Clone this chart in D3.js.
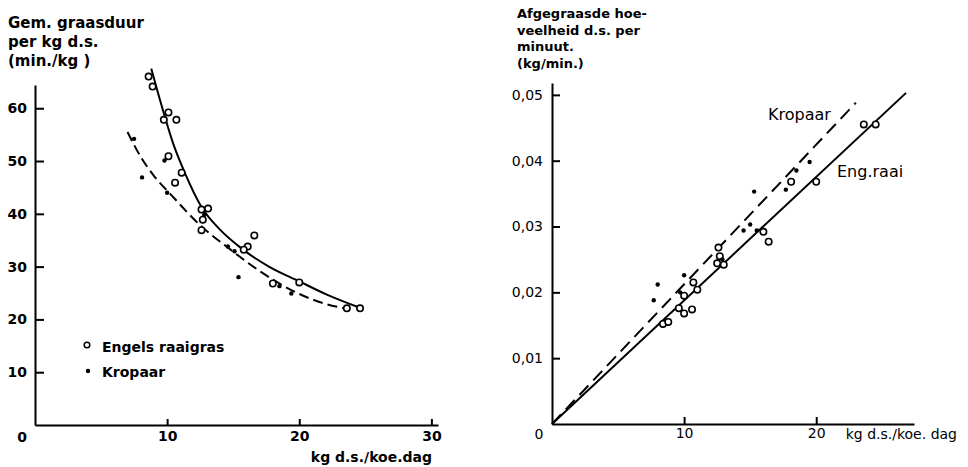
<!DOCTYPE html>
<html>
<head>
<meta charset="utf-8">
<script src="https://cdn.jsdelivr.net/npm/d3@7"></script>
<style>
  body { margin: 0; background: #fff; }
  svg { font-family: "DejaVu Sans", sans-serif; }
  .axis path, .axis line { stroke: #000; stroke-width: 2; }
  .axis text { fill: #000; }
</style>
</head>
<body>
<div id="chart"></div>
<script>
// left panel: grazing time per kg dry matter (min/kg) vs kg d.s./cow.day
const engLeftPts = [
  [8.6, 66.0], [8.9, 64.1], [10.1, 59.2], [9.75, 57.8], [10.7, 57.8], [10.1, 50.9],
  [11.1, 47.8], [10.6, 45.9], [12.6, 40.8], [13.1, 41.0], [12.7, 38.9], [12.6, 36.9],
  [16.6, 35.9], [16.1, 33.8], [15.8, 33.2], [20.0, 27.0], [18.0, 26.8], [23.6, 22.1], [24.6, 22.1]
];
const kropLeftPts = [
  [7.5, 54.2], [8.1, 46.9], [10.0, 44.0], [9.8, 50.1], [12.8, 39.8], [14.6, 33.8],
  [15.1, 32.9], [15.4, 28.0], [18.5, 26.3], [19.4, 24.9]
];
const engLeftCurve = [
  [8.8, 67.5], [9.7, 59.5], [10.5, 53.0], [11.3, 48.0], [12.6, 41.3], [14.0, 37.0],
  [15.6, 33.5], [17.7, 30.0], [20.0, 27.2], [22.0, 24.8], [24.6, 22.2]
];
const kropLeftCurve = [
  [7.0, 55.5], [8.0, 50.8], [9.0, 47.2], [10.3, 43.6], [12.6, 37.6], [14.6, 33.6],
  [17.1, 29.0], [19.6, 25.3], [21.9, 23.0], [23.4, 22.1]
];
const leftXTicks = [10, 20, 30];
const leftYTicks = [10, 20, 30, 40, 50, 60];

// right panel: grazed amount d.s. per minute (kg/min)
const engRightPts = [
  [12.6, 0.0268], [12.7, 0.0255], [12.5, 0.0244], [13.0, 0.0242], [10.7, 0.0215],
  [11.0, 0.0204], [10.0, 0.0195], [9.6, 0.0176], [10.0, 0.0168], [10.6, 0.0174],
  [8.4, 0.0152], [8.8, 0.0155], [16.0, 0.0292], [16.4, 0.0277], [23.6, 0.0455],
  [24.5, 0.0455], [20.0, 0.0368], [18.1, 0.0368]
];
const kropRightPts = [
  [15.3, 0.0353], [15.0, 0.0303], [14.5, 0.0294], [15.5, 0.0294], [10.0, 0.0226],
  [8.0, 0.0212], [7.7, 0.0188], [9.7, 0.0200], [12.9, 0.0250], [19.5, 0.0398],
  [18.5, 0.0385], [17.7, 0.0356]
];
const engRightLine = [[0, 0], [26.8, 0.0503]];
const kropRightLine = [[0, 0], [23.0, 0.0488]];
const rightXTicks = [10, 20];
const rightYTicks = [0.01, 0.02, 0.03, 0.04, 0.05];

const width = 968;
const height = 467;

const svg = d3.select('#chart')
  .append('svg')
  .attr('width', width)
  .attr('height', height);

// ---------- left panel ----------
const xL = d3.scaleLinear().domain([0, 30.5]).range([35, 438]);
const yL = d3.scaleLinear().domain([0, 64.4]).range([425, 85]);

const left = svg.append('g');

left.append('g')
  .attr('class', 'axis')
  .attr('transform', `translate(0, ${yL(0)})`)
  .call(d3.axisBottom(xL).tickValues(leftXTicks).tickSize(-6).tickSizeOuter(0).tickPadding(6))
  .call(g => g.selectAll('text').attr('font-size', 14).attr('font-weight', 'bold').attr('font-family', 'DejaVu Sans'));

left.append('g')
  .attr('class', 'axis')
  .attr('transform', `translate(${xL(0)}, 0)`)
  .call(d3.axisLeft(yL).tickValues(leftYTicks).tickSize(-9).tickSizeOuter(0).tickPadding(8))
  .call(g => g.selectAll('text').attr('font-size', 14).attr('font-weight', 'bold').attr('font-family', 'DejaVu Sans'));

left.append('text')
  .attr('x', 22).attr('y', 442)
  .attr('text-anchor', 'middle')
  .attr('font-size', 14).attr('font-weight', 'bold')
  .text('0');

left.append('text')
  .attr('x', 432).attr('y', 462)
  .attr('text-anchor', 'end')
  .attr('font-size', 14).attr('font-weight', 'bold')
  .text('kg d.s./koe.dag');

const leftTitle = ['Gem. graasduur', 'per kg d.s.', '(min./kg )'];
left.selectAll('.ltitle')
  .data(leftTitle)
  .enter()
  .append('text')
  .attr('class', 'ltitle')
  .attr('x', 8)
  .attr('y', (_, i) => 28 + i * 19)
  .attr('font-size', 15).attr('font-weight', 'bold')
  .text(d => d);

const lineL = d3.line()
  .x(d => xL(d[0]))
  .y(d => yL(d[1]))
  .curve(d3.curveMonotoneX);

left.append('path')
  .attr('d', lineL(engLeftCurve))
  .attr('fill', 'none')
  .attr('stroke', '#000')
  .attr('stroke-width', 2);

left.append('path')
  .attr('d', lineL(kropLeftCurve))
  .attr('fill', 'none')
  .attr('stroke', '#000')
  .attr('stroke-width', 2)
  .attr('stroke-dasharray', '10,5');

left.selectAll('.eng')
  .data(engLeftPts)
  .enter()
  .append('circle')
  .attr('cx', d => xL(d[0]))
  .attr('cy', d => yL(d[1]))
  .attr('r', 3.2)
  .attr('fill', '#fff')
  .attr('stroke', '#000')
  .attr('stroke-width', 1.6);

left.selectAll('.krop')
  .data(kropLeftPts)
  .enter()
  .append('circle')
  .attr('cx', d => xL(d[0]))
  .attr('cy', d => yL(d[1]))
  .attr('r', 2.2)
  .attr('fill', '#000');

// legend
const legend = left.append('g');
legend.append('circle')
  .attr('cx', 87).attr('cy', 345).attr('r', 2.8)
  .attr('fill', '#fff').attr('stroke', '#000').attr('stroke-width', 1.5);
legend.append('text')
  .attr('x', 102).attr('y', 352)
  .attr('font-size', 14).attr('font-weight', 'bold')
  .text('Engels raaigras');
legend.append('circle')
  .attr('cx', 88).attr('cy', 371).attr('r', 2.2)
  .attr('fill', '#000');
legend.append('text')
  .attr('x', 102).attr('y', 377)
  .attr('font-size', 14).attr('font-weight', 'bold')
  .text('Kropaar');

// ---------- right panel ----------
const xR = d3.scaleLinear().domain([0, 27.4]).range([552, 914]);
const yR = d3.scaleLinear().domain([0, 0.0518]).range([424, 83]);
const fmtComma = d => d3.format('.2f')(d).replace('.', ',');

const right = svg.append('g');

right.append('g')
  .attr('class', 'axis')
  .attr('transform', `translate(0, ${yR(0)})`)
  .call(d3.axisBottom(xR).tickValues(rightXTicks).tickSize(-7).tickSizeOuter(0).tickPadding(4))
  .call(g => g.selectAll('text').attr('font-size', 14).attr('font-family', 'DejaVu Sans'));

right.append('g')
  .attr('class', 'axis')
  .attr('transform', `translate(${xR(0)}, 0)`)
  .call(d3.axisLeft(yR).tickValues(rightYTicks).tickFormat(fmtComma).tickSize(-8).tickSizeOuter(0).tickPadding(9))
  .call(g => g.selectAll('text').attr('font-size', 14).attr('font-family', 'DejaVu Sans'));

right.append('text')
  .attr('x', 539).attr('y', 439)
  .attr('text-anchor', 'middle')
  .attr('font-size', 14)
  .text('0');

right.append('text')
  .attr('x', 957).attr('y', 439)
  .attr('text-anchor', 'end')
  .attr('font-size', 14)
  .text('kg d.s./koe. dag');

const rightTitle = ['Afgegraasde hoe-', 'veelheid d.s. per', 'minuut.', '(kg/min.)'];
right.selectAll('.rtitle')
  .data(rightTitle)
  .enter()
  .append('text')
  .attr('class', 'rtitle')
  .attr('x', 517)
  .attr('y', (_, i) => 18 + i * 16.5)
  .attr('font-size', 13).attr('font-weight', 'bold')
  .text(d => d);

const lineR = d3.line()
  .x(d => xR(d[0]))
  .y(d => yR(d[1]));

right.append('path')
  .attr('d', lineR(engRightLine))
  .attr('fill', 'none')
  .attr('stroke', '#000')
  .attr('stroke-width', 2);

right.append('path')
  .attr('d', lineR(kropRightLine))
  .attr('fill', 'none')
  .attr('stroke', '#000')
  .attr('stroke-width', 2)
  .attr('stroke-dasharray', '13,7');

right.selectAll('.eng')
  .data(engRightPts)
  .enter()
  .append('circle')
  .attr('cx', d => xR(d[0]))
  .attr('cy', d => yR(d[1]))
  .attr('r', 3.2)
  .attr('fill', '#fff')
  .attr('stroke', '#000')
  .attr('stroke-width', 1.6);

right.selectAll('.krop')
  .data(kropRightPts)
  .enter()
  .append('circle')
  .attr('cx', d => xR(d[0]))
  .attr('cy', d => yR(d[1]))
  .attr('r', 2.2)
  .attr('fill', '#000');

right.append('text')
  .attr('x', 768).attr('y', 120)
  .attr('font-size', 16)
  .text('Kropaar');

right.append('text')
  .attr('x', 837).attr('y', 177)
  .attr('font-size', 16)
  .text('Eng.raai');
</script>
</body>
</html>
